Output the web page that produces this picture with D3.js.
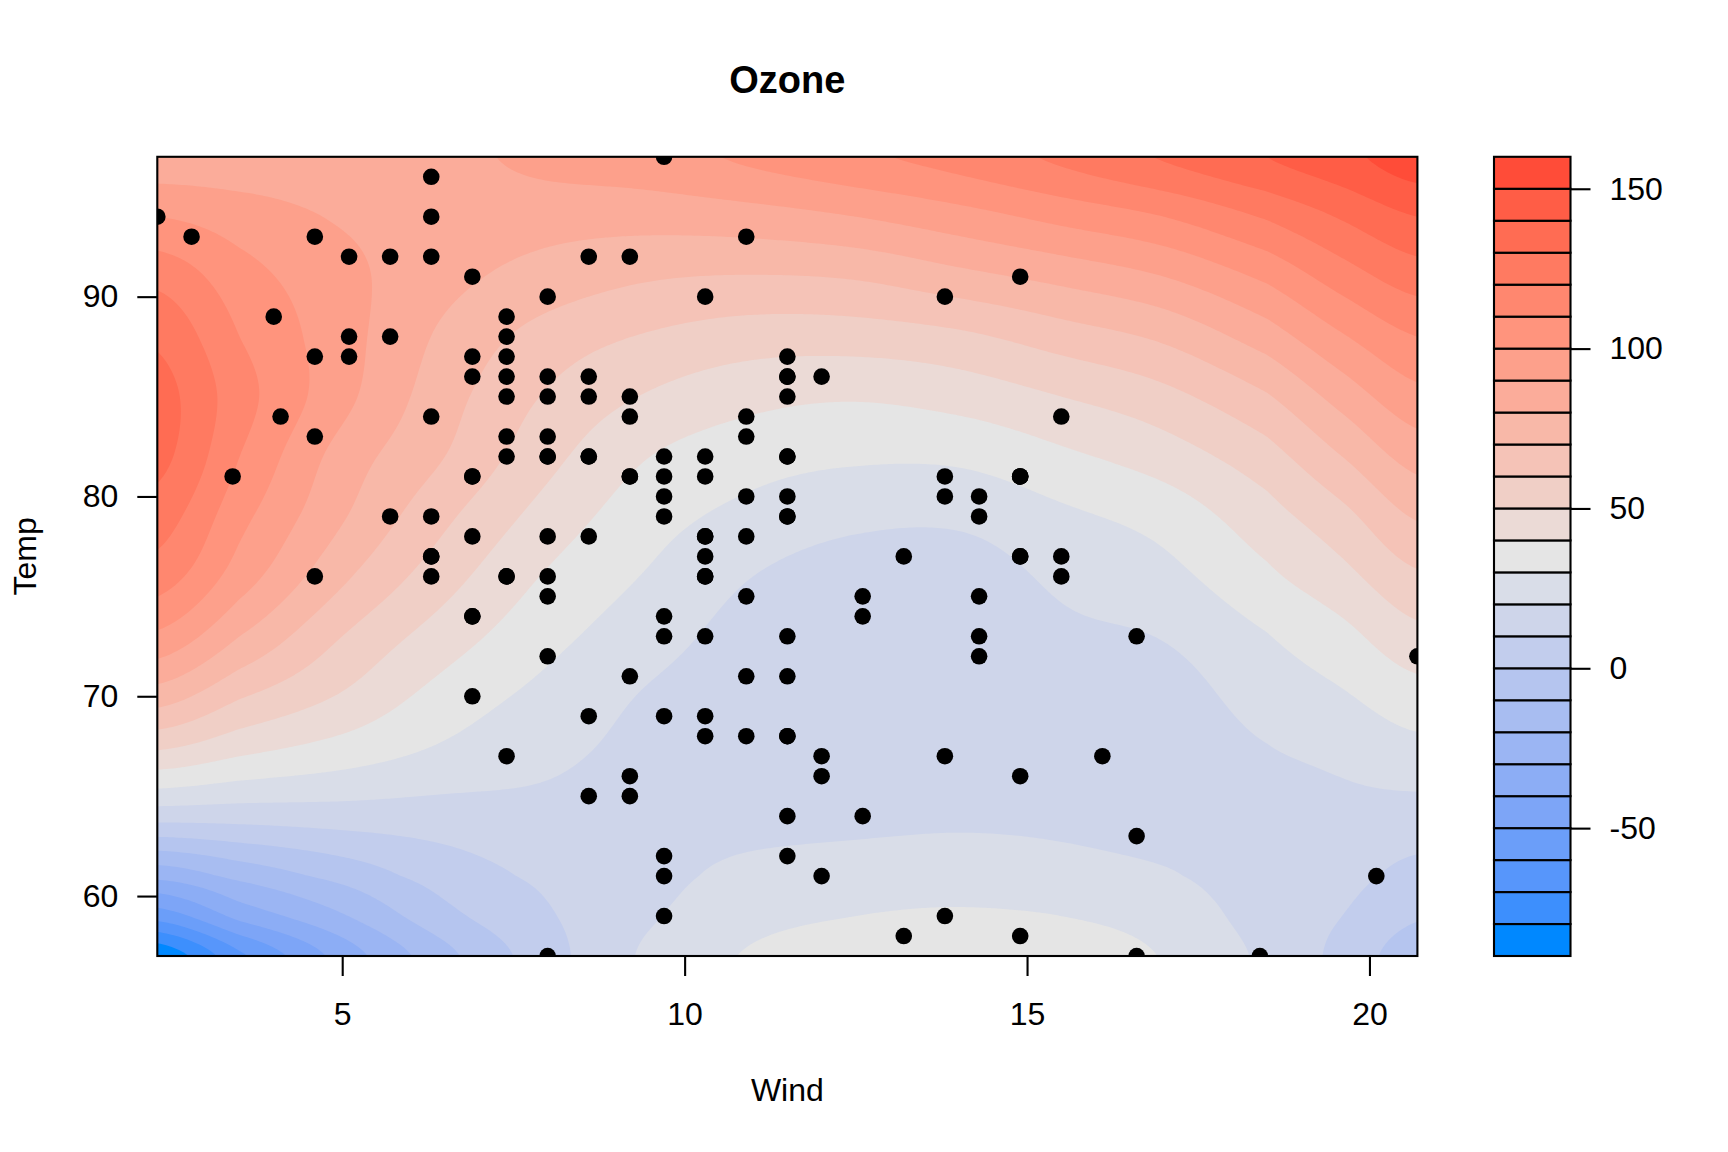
<!DOCTYPE html>
<html>
<head>
<meta charset="utf-8">
<script src="https://cdn.jsdelivr.net/npm/d3@7"></script>
<style>
  html, body { margin: 0; background: #fff; }
  text { font-family: "Liberation Sans", Arial, sans-serif; fill: #000; }
  .axis text { font-size: 32px; }
  .axis line, .axis path { stroke: #000; stroke-width: 2.1px; }
</style>
</head>
<body>
<svg width="1728" height="1152"></svg>
<script>
var title = "Ozone", xTitle = "Wind", yTitle = "Temp";
var xTicks = [5, 10, 15, 20],
    yTicks = [60, 70, 80, 90],
    barTicks = [-50, 0, 50, 100, 150];

// band edges of the filled contours, every 10 from -90 to 160
var levels = d3.range(-90, 161, 10);
var rampAnchors = ["#0088FF", "#E5E5E5", "#FF4C38"];

// ozone, one array per wind value, top to bottom
var tempKnots = [97, 94, 91, 88, 85, 82, 79, 76, 73, 70, 67, 64, 61, 59, 57];
var windKnots = [2.3, 3.5, 5, 6.5, 8, 9.5, 11, 12.5, 14, 15.5, 17, 18.5, 19.6, 20.7];
var ozoneW2_3  = [84, 100, 117, 128, 134, 133, 125, 115, 98, 75, 47, 14, -27, -56, -88];
var ozoneW3_5  = [84, 95, 104, 110, 114, 110, 103, 95, 80, 61, 40, 14, -17, -37, -62];
var ozoneW5    = [84, 89, 93, 94, 93, 86, 81, 72, 60, 49, 34, 15, -6.5, -21, -36];
var ozoneW6_5  = [87, 85.5, 83, 78, 74, 70, 62, 54, 45, 36, 27.5, 15.5, 4.5, -3, -13];
var ozoneW8    = [93, 84, 76, 66, 59, 53, 46, 39, 33, 27, 22, 17, 12, 9, 6];
var ozoneW9_5  = [96, 84, 71, 59, 49, 40, 34, 29, 24, 19, 17, 16, 17, 19, 22];
var ozoneW11   = [102, 86, 69.5, 55, 43, 34, 27, 20, 16, 14, 14, 16, 23, 27, 31];
var ozoneW12_5 = [108, 90, 71, 55, 41, 31.5, 22.5, 15, 12.5, 11.5, 13, 17, 25, 30, 34];
var ozoneW14   = [114, 96, 77, 58, 44, 32, 22, 15, 12.5, 12, 14, 18, 26, 31, 35];
var ozoneW15_5 = [122, 103, 83, 65, 50, 38, 28, 22, 18, 16, 15.5, 17.5, 24, 30, 34];
var ozoneW17   = [131, 110, 90, 72, 57, 45, 34, 27, 20.5, 16, 14, 15, 21, 26, 29.5];
var ozoneW18_5 = [140, 121, 102, 85, 69, 56, 46, 38, 29.5, 24, 19, 15, 15, 16, 18];
var ozoneW19_6 = [147, 131, 115, 99, 84, 70, 57, 47, 37, 29, 22, 17, 13, 10, 7];
var ozoneW20_7 = [156, 140, 125, 110, 97, 84, 71, 58.5, 47, 36, 26, 16, 7, 1, -6];
var ozoneColumns = [ozoneW2_3, ozoneW3_5, ozoneW5, ozoneW6_5, ozoneW8, ozoneW9_5, ozoneW11,
                    ozoneW12_5, ozoneW14, ozoneW15_5, ozoneW17, ozoneW18_5, ozoneW19_6, ozoneW20_7];

// observations
var windObs = [7.4,8,12.6,11.5,14.9,8.6,13.8,20.1,8.6,6.9,9.7,9.2,10.9,13.2,11.5,12,18.4,11.5,9.7,9.7,16.6,9.7,12,16.6,14.9,8,12,14.9,5.7,7.4,8.6,9.7,16.1,9.2,8.6,14.3,9.7,6.9,13.8,11.5,10.9,9.2,8,13.8,11.5,14.9,20.7,9.2,11.5,10.3,6.3,4.6,6.3,8,8,10.3,11.5,14.9,8,4.1,9.2,9.2,10.9,4.6,10.9,5.1,6.3,5.7,7.4,8.6,14.3,14.9,14.9,14.3,6.9,10.3,6.3,5.1,11.5,6.9,9.7,11.5,8.6,8,8.6,12,7.4,7.4,7.4,9.2,6.9,13.8,7.4,6.9,7.4,4.6,4,10.3,8,8.6,11.5,11.5,11.5,9.7,11.5,10.3,6.3,7.4,10.9,10.3,15.5,14.3,12.6,9.7,3.4,8,5.7,9.7,2.3,6.3,6.3,6.9,5.1,2.8,4.6,7.4,15.5,10.9,10.3,10.9,9.7,14.9,15.5,6.3,10.9,11.5,6.9,13.8,10.3,10.3,8,12.6,9.2,10.3,10.3,16.6,6.9,13.2,14.3,8,11.5];
var tempObs = [67,72,74,62,66,65,59,61,69,74,69,66,68,58,64,66,57,68,62,59,73,61,61,57,58,57,67,81,79,76,78,74,67,84,85,79,82,87,90,87,93,92,82,80,79,77,72,65,73,76,77,76,76,75,78,73,80,77,83,84,85,81,84,83,83,88,92,92,89,82,73,81,91,80,81,82,84,87,85,74,81,82,86,85,82,86,88,86,83,81,81,81,82,86,85,87,89,90,90,92,86,86,82,80,79,77,79,76,78,78,77,72,75,79,81,86,88,97,94,96,94,91,92,93,93,87,84,80,78,75,73,81,76,77,71,71,78,67,76,68,82,64,71,81,69,63,70,77,75,76,68];

var panel = {left: 157.3, right: 1417.4, top: 156.8, bottom: 956},
    bar = {left: 1494, right: 1570.5};

var svg = d3.select("svg");

var x = d3.scaleLinear().domain([2.3, 20.7]).range([panel.left, panel.right]);
var y = d3.scaleLinear().domain([57, 97]).range([panel.bottom, panel.top]);
var z = d3.scaleLinear().domain([-90, 160]).range([panel.bottom, panel.top]);

var ramp = d3.piecewise(d3.interpolateLab, rampAnchors);
var bandColor = function(i) { return ramp(i / (levels.length - 2)); };

// catmull-rom resampling of the read grid, so the edges come out smooth
function cubic(a, b, c, d, t) {
  return b + 0.5 * t * (c - a + t * (2 * a - 5 * b + 4 * c - d + t * (3 * (b - c) + d - a)));
}
var windIndex = d3.scaleLinear().domain(windKnots).range(d3.range(windKnots.length));
var tempIndex = d3.scaleLinear().domain(tempKnots).range(d3.range(tempKnots.length));

function ozoneAt(wind, temp) {
  var u = windIndex(wind), v = tempIndex(temp),
      i = Math.min(Math.floor(u), windKnots.length - 2),
      j = Math.min(Math.floor(v), tempKnots.length - 2);
  function cell(a, b) {
    var ca = ozoneColumns[Math.max(0, Math.min(windKnots.length - 1, a))];
    return ca[Math.max(0, Math.min(tempKnots.length - 1, b))];
  }
  var r = [-1, 0, 1, 2].map(function(k) {
    return cubic(cell(i - 1, j + k), cell(i, j + k), cell(i + 1, j + k), cell(i + 2, j + k), u - i);
  });
  return cubic(r[0], r[1], r[2], r[3], v - j);
}

var nx = 421, ny = 268;
var gridWind = d3.scaleLinear().domain([0.5, nx - 0.5]).range(x.domain());
var gridTemp = d3.scaleLinear().domain([0.5, ny - 0.5]).range([97, 57]);

var values = new Array(nx * ny);
for (var row = 0; row < ny; row++) {
  for (var col = 0; col < nx; col++) {
    values[row * nx + col] = ozoneAt(gridWind(col + 0.5), gridTemp(row + 0.5));
  }
}

svg.append("clipPath").attr("id", "panel-clip").append("rect")
    .attr("x", panel.left).attr("y", panel.top)
    .attr("width", panel.right - panel.left).attr("height", panel.bottom - panel.top);

var project = d3.geoPath(d3.geoTransform({
  point: function(px, py) { this.stream.point(x(gridWind(px)), y(gridTemp(py))); }
}));

var contours = d3.contours().size([nx, ny]).smooth(true)
    .thresholds(levels.slice(1, -1))(values);

var field = svg.append("g").attr("clip-path", "url(#panel-clip)");

field.append("rect")
    .attr("x", panel.left).attr("y", panel.top)
    .attr("width", panel.right - panel.left).attr("height", panel.bottom - panel.top)
    .attr("fill", bandColor(0));

field.selectAll("path")
    .data(contours)
  .enter().append("path")
    .attr("d", project)
    .attr("fill", function(d, i) { return bandColor(i + 1); });

svg.append("g").attr("clip-path", "url(#panel-clip)")
  .selectAll("circle")
    .data(windObs)
  .enter().append("circle")
    .attr("cx", function(d) { return x(d); })
    .attr("cy", function(d, i) { return y(tempObs[i]); })
    .attr("r", 8.3)
    .attr("fill", "#000");

svg.append("rect")
    .attr("x", panel.left).attr("y", panel.top)
    .attr("width", panel.right - panel.left).attr("height", panel.bottom - panel.top)
    .attr("fill", "none").attr("stroke", "#000").attr("stroke-width", 2.1);

svg.append("g").attr("class", "axis")
    .attr("transform", "translate(0," + panel.bottom + ")")
    .call(d3.axisBottom(x).tickValues(xTicks).tickFormat(String).tickSize(20).tickPadding(26));

svg.append("g").attr("class", "axis")
    .attr("transform", "translate(" + panel.left + ",0)")
    .call(d3.axisLeft(y).tickValues(yTicks).tickFormat(String).tickSize(20).tickPadding(19));

// colour key
svg.append("g").selectAll("rect")
    .data(levels.slice(0, -1))
  .enter().append("rect")
    .attr("x", bar.left)
    .attr("y", function(d) { return z(d + 10); })
    .attr("width", bar.right - bar.left)
    .attr("height", function(d) { return z(d) - z(d + 10); })
    .attr("fill", function(d, i) { return bandColor(i); })
    .attr("stroke", "#000").attr("stroke-width", 2.1);

svg.append("g").attr("class", "axis")
    .attr("transform", "translate(" + bar.right + ",0)")
    .call(d3.axisRight(z).tickValues(barTicks).tickFormat(String).tickSize(20).tickPadding(19));

svg.selectAll(".axis .domain").remove();

svg.append("text")
    .attr("x", (panel.left + panel.right) / 2).attr("y", 93)
    .attr("text-anchor", "middle")
    .style("font-size", "38px").style("font-weight", "bold")
    .text(title);

svg.append("text")
    .attr("x", (panel.left + panel.right) / 2).attr("y", 1101)
    .attr("text-anchor", "middle")
    .style("font-size", "32px")
    .text(xTitle);

svg.append("text")
    .attr("transform", "translate(36," + (panel.top + panel.bottom) / 2 + ") rotate(-90)")
    .attr("text-anchor", "middle")
    .style("font-size", "32px")
    .text(yTitle);
</script>
</body>
</html>
